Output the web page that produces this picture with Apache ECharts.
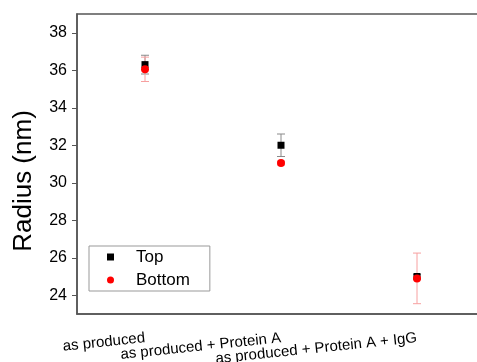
<!DOCTYPE html>
<html>
<head>
<meta charset="utf-8">
<script src="https://cdn.jsdelivr.net/npm/echarts@6/dist/echarts.min.js"></script>
<style>html,body{margin:0;padding:0;background:#fff;}#c{width:477px;height:362px;}</style>
</head>
<body>
<div id="c"></div>
<script>
const categories = ['as produced', 'as produced + Protein A', 'as produced + Protein A + IgG'];
const topValues = [36.3, 32.0, 25.0];
const topErrors = [0.5, 0.6, 0.1];
const bottomValues = [36.05, 31.05, 24.9];
const bottomErrors = [0.65, 0.1, 1.35];
const yTicks = [24, 26, 28, 30, 32, 34, 36, 38];

const font = '"Liberation Sans", Arial, sans-serif';

function errData(vals, errs) {
  return vals.map((v, i) => [i, v - errs[i], v + errs[i]]);
}
function errRender(color) {
  return function (params, api) {
    const x = api.value(0);
    const lo = api.coord([x, api.value(1)]);
    const hi = api.coord([x, api.value(2)]);
    const hw = 4;
    const style = { stroke: color, lineWidth: 1 };
    return {
      type: 'group',
      children: [
        { type: 'line', shape: { x1: hi[0], y1: hi[1], x2: lo[0], y2: lo[1] }, style },
        { type: 'line', shape: { x1: hi[0] - hw, y1: hi[1], x2: hi[0] + hw, y2: hi[1] }, style },
        { type: 'line', shape: { x1: lo[0] - hw, y1: lo[1], x2: lo[0] + hw, y2: lo[1] }, style }
      ]
    };
  };
}

const chart = echarts.init(document.getElementById('c'), null, { renderer: 'canvas' });
chart.setOption({
  backgroundColor: '#fff',
  animation: false,
  textStyle: { fontFamily: font },
  grid: { left: 77, top: 14, width: 408, bottom: 48, containLabel: false, outerBoundsMode: 'none', show: true, borderColor: '#555', borderWidth: 1.5, backgroundColor: 'transparent' },
  legend: {
    orient: 'vertical', left: 89, top: 246,
    padding: [2, 20, 2, 18],
    itemWidth: 7, itemHeight: 7, itemGap: 5,
    borderColor: '#999', borderWidth: 1,
    itemStyle: { opacity: 1 },
    textStyle: { fontSize: 17, color: '#000', fontFamily: font, lineHeight: 18, padding: [0, 0, 0, 17] },
    data: [{ name: 'Top', icon: 'rect' }, { name: 'Bottom', icon: 'circle' }]
  },
  xAxis: {
    type: 'category', data: categories, boundaryGap: true,
    axisLine: { lineStyle: { color: '#555', width: 1.5 } },
    axisTick: { alignWithLabel: true, length: 6, lineStyle: { color: '#555' } },
    axisLabel: { rotate: 6, margin: 24, fontSize: 15, color: '#000', fontFamily: font, interval: 0 },
    splitLine: { show: false }
  },
  yAxis: {
    type: 'value', min: 23, max: 39,
    name: 'Radius (nm)', nameLocation: 'middle', nameGap: 40,
    nameTextStyle: { fontSize: 26, color: '#000', fontFamily: font, padding: [0, 34, 0, 0] },
    axisLine: { show: true, lineStyle: { color: '#555', width: 1.5 } },
    axisTick: { show: true, length: 5, customValues: yTicks, lineStyle: { color: '#555' } },
    axisLabel: { margin: 10, fontSize: 16, color: '#000', fontFamily: font, customValues: yTicks },
    splitLine: { show: false }
  },
  series: [
    { type: 'custom', name: 'TopErr', renderItem: errRender('#8a8a8a'), data: errData(topValues, topErrors), z: 1, encode: { x: 0, y: [1, 2] } },
    { type: 'custom', name: 'BottomErr', renderItem: errRender('#f7a0a0'), data: errData(bottomValues, bottomErrors), z: 1, encode: { x: 0, y: [1, 2] } },
    { type: 'scatter', name: 'Top', symbol: 'rect', symbolSize: 7, itemStyle: { color: '#000', opacity: 1 }, data: topValues, z: 3 },
    { type: 'scatter', name: 'Bottom', symbol: 'circle', symbolSize: 8, itemStyle: { color: '#ff0000', opacity: 1 }, data: bottomValues, z: 4 }
  ]
});
</script>
</body>
</html>
